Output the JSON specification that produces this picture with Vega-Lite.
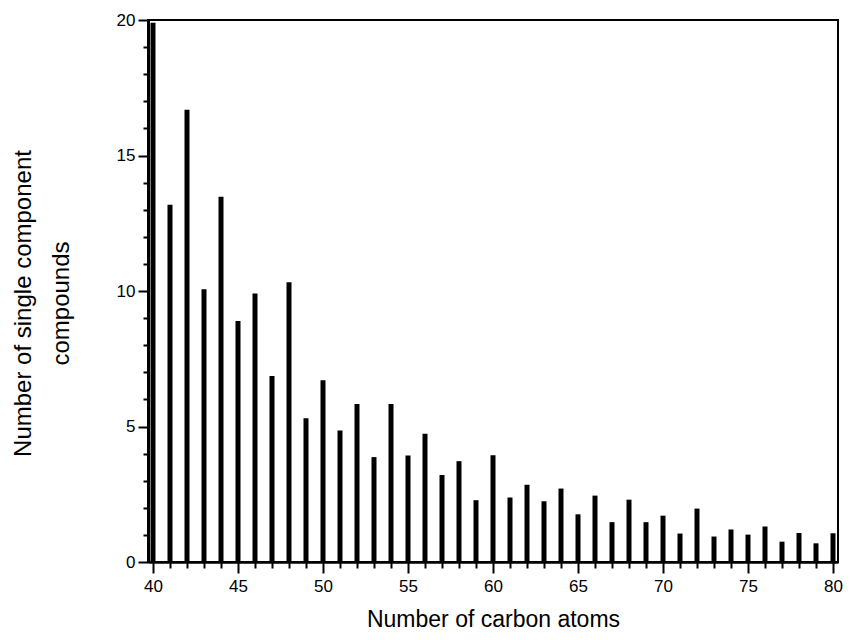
{
  "$schema": "https://vega.github.io/schema/vega-lite/v6.json",
  "width": 690,
  "height": 542,
  "autosize": "none",
  "padding": {"left": 148, "top": 20, "right": 15, "bottom": 78},
  "background": "white",
  "config": {
    "view": {"stroke": "black", "strokeWidth": 2},
    "font": "Liberation Sans"
  },
  "data": {
    "values": [
      {"c": 40, "n": 19.9}, {"c": 41, "n": 13.18}, {"c": 42, "n": 16.69}, {"c": 43, "n": 10.06},
      {"c": 44, "n": 13.48}, {"c": 45, "n": 8.89}, {"c": 46, "n": 9.91}, {"c": 47, "n": 6.86},
      {"c": 48, "n": 10.32}, {"c": 49, "n": 5.3}, {"c": 50, "n": 6.71}, {"c": 51, "n": 4.85},
      {"c": 52, "n": 5.83}, {"c": 53, "n": 3.87}, {"c": 54, "n": 5.83}, {"c": 55, "n": 3.93},
      {"c": 56, "n": 4.73}, {"c": 57, "n": 3.21}, {"c": 58, "n": 3.72}, {"c": 59, "n": 2.28},
      {"c": 60, "n": 3.94}, {"c": 61, "n": 2.38}, {"c": 62, "n": 2.85}, {"c": 63, "n": 2.24},
      {"c": 64, "n": 2.71}, {"c": 65, "n": 1.76}, {"c": 66, "n": 2.45}, {"c": 67, "n": 1.47},
      {"c": 68, "n": 2.3}, {"c": 69, "n": 1.47}, {"c": 70, "n": 1.71}, {"c": 71, "n": 1.05},
      {"c": 72, "n": 1.97}, {"c": 73, "n": 0.94}, {"c": 74, "n": 1.2}, {"c": 75, "n": 1.01},
      {"c": 76, "n": 1.31}, {"c": 77, "n": 0.75}, {"c": 78, "n": 1.07}, {"c": 79, "n": 0.69},
      {"c": 80, "n": 1.06}
    ]
  },
  "mark": {"type": "bar", "width": 5, "color": "black", "clip": true},
  "encoding": {
    "x": {
      "field": "c",
      "type": "quantitative",
      "scale": {"domain": [40, 80], "nice": false, "zero": false},
      "axis": {
        "title": "Number of carbon atoms",
        "values": [40,41,42,43,44,45,46,47,48,49,50,51,52,53,54,55,56,57,58,59,60,61,62,63,64,65,66,67,68,69,70,71,72,73,74,75,76,77,78,79,80],
        "labelExpr": "datum.value % 5 === 0 ? datum.label : ''",
        "grid": false,
        "domainColor": "black",
        "domainWidth": 2.5,
        "tickColor": "black",
        "tickWidth": 2,
        "tickSize": {"condition": {"test": "datum.value % 5 === 0", "value": 11}, "value": 6},
        "labelFontSize": 17,
        "labelColor": "black",
        "labelPadding": 5,
        "labelFlush": false,
        "labelOverlap": false,
        "titleFontSize": 23,
        "titleFontWeight": "normal",
        "titleColor": "black",
        "titlePadding": 14
      }
    },
    "y": {
      "field": "n",
      "type": "quantitative",
      "scale": {"domain": [0, 20], "nice": false},
      "axis": {
        "title": ["Number of single component", "compounds"],
        "values": [0,1,2,3,4,5,6,7,8,9,10,11,12,13,14,15,16,17,18,19,20],
        "labelExpr": "datum.value % 5 === 0 ? datum.label : ''",
        "grid": false,
        "domainColor": "black",
        "domainWidth": 3,
        "tickColor": "black",
        "tickWidth": 2,
        "tickSize": {"condition": {"test": "datum.value % 5 === 0", "value": 10}, "value": 5},
        "labelFontSize": 17,
        "labelColor": "black",
        "labelPadding": 3,
        "labelFlush": false,
        "labelOverlap": false,
        "titleFontSize": 24,
        "titleFontWeight": "normal",
        "titleColor": "black",
        "titleLineHeight": 38,
        "titlePadding": 43,
        "titleY": 283
      }
    }
  }
}
